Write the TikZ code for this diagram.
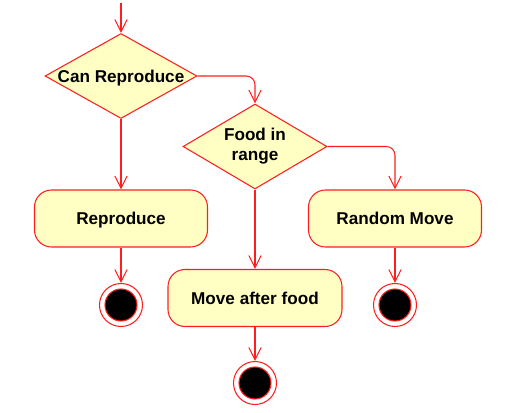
\documentclass[tikz,border=0pt]{standalone}
\usepackage{fontspec}
\setmainfont{Liberation Sans}
\usetikzlibrary{arrows.meta, shapes.geometric}
\usepackage{xcolor}
\definecolor{myred}{RGB}{255, 30, 30}
\definecolor{myyellow}{RGB}{255, 255, 196}

\begin{document}
\begin{tikzpicture}[
    every node/.style={font=\fontsize{9.75}{11.3}\selectfont\bfseries},
    decision/.style={diamond, draw=myred, fill=myyellow, line width=0.6pt,
        shape aspect=1.8, inner sep=0pt, minimum height=1.7cm},
    activity/.style={rectangle, draw=myred, fill=myyellow, line width=0.6pt,
        rounded corners=0.34cm, minimum width=3.46cm, minimum height=1.14cm,
        text depth=0pt},
    final/.style={circle, draw=myred, fill=white, line width=0.6pt,
        minimum size=0.86cm, inner sep=0pt,
        path picture={\draw[myred, fill=black, line width=0.6pt]
            (path picture bounding box.center) circle (0.32cm);}},
    flow/.style={draw=myred, line width=0.6pt, rounded corners=5pt,
        -{Straight Barb[length=7pt, width=7pt]}}
]

\useasboundingbox (0,0) rectangle (10.16,-8.26);

% ------------------------------------------------
% Decisions
% ------------------------------------------------

\coordinate (start) at (2.42,-0.06);

\node[
    decision,
    minimum width=3.04cm,
    text depth=0pt
] (canrep) at (2.42,-1.52)
{Can Reproduce};

\node[
    decision,
    minimum width=2.88cm,
    align=center
] (foodrange) at (5.1,-2.93)
{Food in\\range};

% ------------------------------------------------
% Activities
% ------------------------------------------------

\node[activity] (reproduce) at (2.42,-4.37) {Reproduce};

\node[activity] (randmove) at (7.9,-4.37) {Random Move};

\node[activity, minimum width=3.48cm] (movefood) at (5.1,-5.96) {Move after food};

% ------------------------------------------------
% Final states
% ------------------------------------------------

\node[final] (endrep) at (2.42,-6.1) {};

\node[final] (endrand) at (7.9,-6.1) {};

\node[final] (endfood) at (5.1,-7.66) {};

% ------------------------------------------------
% Flows
% ------------------------------------------------

\draw[flow] (start) -- (canrep.north);
\draw[flow] (canrep.east) -| (foodrange.north);
\draw[flow] (canrep.south) -- (reproduce.north);
\draw[flow] (foodrange.south) -- (movefood.north);
\draw[flow] (foodrange.east) -| (randmove.north);
\draw[flow] (reproduce.south) -- (endrep.north);
\draw[flow] (randmove.south) -- (endrand.north);
\draw[flow] (movefood.south) -- (endfood.north);

\end{tikzpicture}
\end{document}
